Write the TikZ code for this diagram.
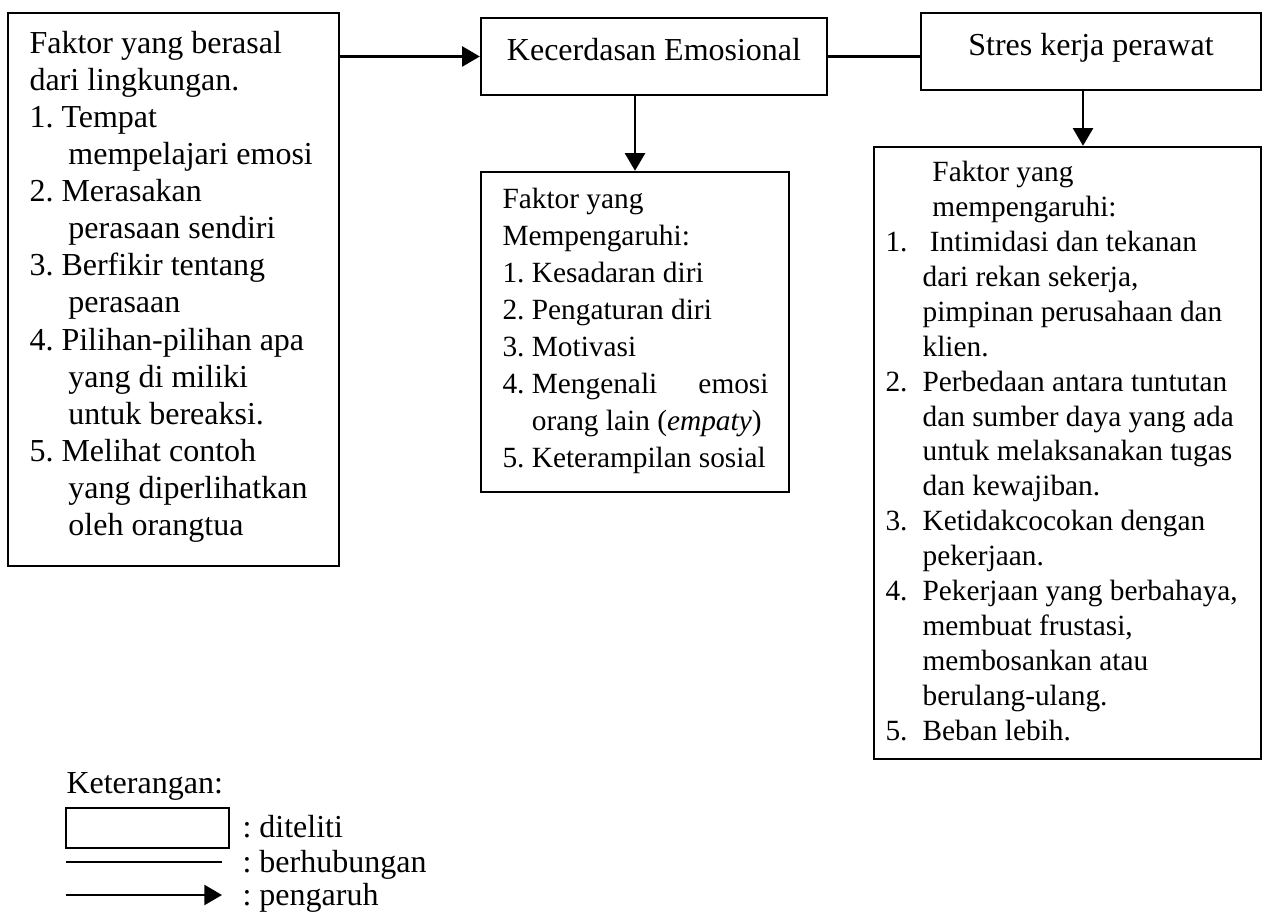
\documentclass[tikz,border=0pt]{standalone}
\usepackage{fontspec}
\setmainfont{Liberation Serif}
\frenchspacing
\usetikzlibrary{calc}
\usetikzlibrary{arrows.meta}

\begin{document}
\begin{tikzpicture}[x=0.375pt,y=-0.375pt,
        every node/.style={font=\fontsize{12}{14}\selectfont},
        kotak/.style={draw,line width=0.9pt,inner sep=0pt},
        judul/.style={kotak,text height=8pt,text depth=5.2pt},
        isi/.style={anchor=north west,inner sep=0pt,align=left},
        ket/.style={anchor=base west,inner sep=0pt},
        panah/.style={line width=0.8pt,-{Triangle[length=6.6pt,width=7.5pt]}},
        garis/.style={line width=0.8pt}]
        \useasboundingbox (0,0) rectangle (1270,915);

        % kotak
        \node[kotak,minimum width=124.1pt,minimum height=207.4pt] (L) at (173.5,289.5) {};
        \node[judul,minimum width=129.75pt,minimum height=28.9pt] (K) at (654,56.5) {Kecerdasan Emosional};
        \node[judul,minimum width=127.5pt,minimum height=28.9pt] (S) at (1091,51.5) {Stres kerja perawat};
        \node[kotak,minimum width=115.5pt,minimum height=120pt] (M) at (635,332) {};
        \node[kotak,minimum width=145.1pt,minimum height=229.5pt] (R) at (1067.5,453) {};

        % isi kotak
        \node[isi,font=\fontsize{12}{13.9}\selectfont] (Lt) at (29,27) {\strut Faktor yang berasal\\
            dari lingkungan.\\
            1. Tempat\\
            \hspace*{14.6pt}mempelajari emosi\\
            2. Merasakan\\
            \hspace*{14.6pt}perasaan sendiri\\
            3. Berfikir tentang\\
            \hspace*{14.6pt}perasaan\\
            4. Pilihan-pilihan apa\\
            \hspace*{14.6pt}yang di miliki\\
            \hspace*{14.6pt}untuk bereaksi.\\
            5. Melihat contoh\\
            \hspace*{14.6pt}yang diperlihatkan\\
            \hspace*{14.6pt}oleh orangtua};
        \node[isi,font=\fontsize{11}{13.9}\selectfont] (Mt) at (502,182) {\strut Faktor yang\\
            Mempengaruhi:\\
            1. Kesadaran diri\\
            2. Pengaturan diri\\
            3. Motivasi\\
            \makebox[99.75pt][l]{4. Mengenali\hfill emosi}\\
            \hspace*{11pt}orang lain (\textit{empaty})\\
            5. Keterampilan sosial};
        \node[isi,font=\fontsize{11}{13.1}\selectfont] (Rt) at (885,156.5) {\hspace*{17.6pt}\strut Faktor yang\\
            \hspace*{17.6pt}mempengaruhi:\\
            \makebox[13.9pt][l]{1.}\ Intimidasi dan tekanan\\
            \hspace*{13.9pt}dari rekan sekerja,\\
            \hspace*{13.9pt}pimpinan perusahaan dan\\
            \hspace*{13.9pt}klien.\\
            \makebox[13.9pt][l]{2.}Perbedaan antara tuntutan\\
            \hspace*{13.9pt}dan sumber daya yang ada\\
            \hspace*{13.9pt}untuk melaksanakan tugas\\
            \hspace*{13.9pt}dan kewajiban.\\
            \makebox[13.9pt][l]{3.}Ketidakcocokan dengan\\
            \hspace*{13.9pt}pekerjaan.\\
            \makebox[13.9pt][l]{4.}Pekerjaan yang berbahaya,\\
            \hspace*{13.9pt}membuat frustasi,\\
            \hspace*{13.9pt}membosankan atau\\
            \hspace*{13.9pt}berulang-ulang.\\
            \makebox[13.9pt][l]{5.}Beban lebih.};

        % penghubung
        \coordinate (sr) at ([xshift=-3pt]S.south);
        \draw[panah] (K.west -| L.east) -- (K.west);
        \draw[garis] (K.east) -- (K.east -| S.west);
        \draw[panah] (M.north |- K.south) -- (M.north);
        \draw[panah] (sr) -- (sr |- R.north);

        % keterangan
        \node[ket] (Kt) at (66,793) {Keterangan:};
        \node[kotak,minimum width=61.1pt,minimum height=15pt] (D) at (147.5,828) {};
        \coordinate (h1) at (66,862);
        \coordinate (h2) at (222,862);
        \coordinate (p1) at (66,895);
        \coordinate (p2) at (222,895);
        \draw[garis] (h1) -- (h2);
        \draw[panah] (p1) -- (p2);
        \node[ket] (Dt) at (242,837) {: diteliti};
        \node[ket] (Ht) at (242,872) {: berhubungan};
        \node[ket] (Pt) at (242,905) {: pengaruh};
\end{tikzpicture}
\end{document}
